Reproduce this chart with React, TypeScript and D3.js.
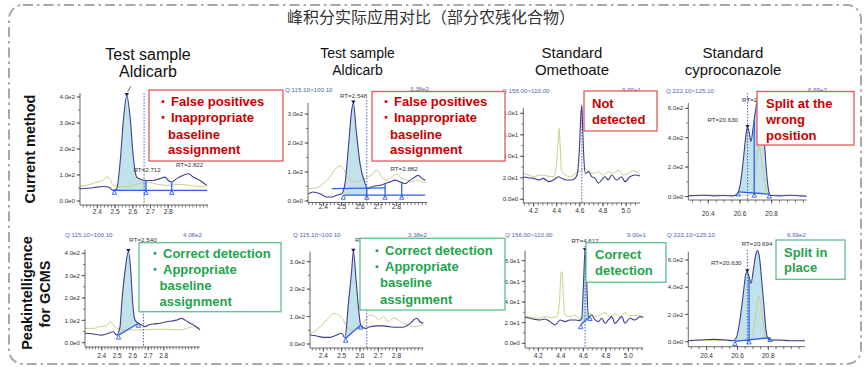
import React from "react";
import * as d3 from "d3";

type Pt = [number, number];

const FONT = "'Liberation Sans', Arial, sans-serif";
const CJK = "'Noto Sans CJK SC', 'Noto Sans', sans-serif";

// ---------- text ----------
const chartTitle = "峰积分实际应用对比（部分农残化合物）";
const colTitles: string[][] = [
  ["Test sample", "Aldicarb"],
  ["Test sample", "Aldicarb"],
  ["Standard", "Omethoate"],
  ["Standard", "cyproconazole"],
];
const rowTitleTop = ["Current method"];
const rowTitleBottom = ["Peakintelligence", "for GCMS"];

// ---------- tick values ----------
const xTicksAldicarb = [2.4, 2.5, 2.6, 2.7, 2.8];
const xTicksOmethoate = [4.2, 4.4, 4.6, 4.8, 5.0];
const xTicksCypro = [20.4, 20.6, 20.8];
const yTicks400 = [0, 100, 200, 300, 400];
const yTicks300 = [0, 100, 200, 300];
const yTicks80 = [0, 20, 40, 60, 80];
const yTicks600 = [0, 200, 400, 600];

// ---------- series: top row (current method) ----------
const p1Dark: Pt[] = [[2.302,47],[2.377,51],[2.434,56],[2.462,54],[2.49,41],[2.509,47],[2.528,144],[2.547,310],[2.566,406],[2.585,323],[2.603,169],[2.622,92],[2.65,82],[2.679,79],[2.716,79],[2.754,86],[2.782,92],[2.801,79],[2.82,73],[2.848,86],[2.886,99],[2.914,105],[2.942,92],[2.98,79],[3.018,60]];
const p1Yellow: Pt[] = [[2.302,56],[2.36,64],[2.4,73],[2.43,79],[2.455,92],[2.475,79],[2.49,60],[2.52,56],[2.57,56],[2.62,64],[2.68,73],[2.74,64],[2.8,60],[2.86,64],[2.92,60],[2.98,56],[3.018,58]];
const p1Base: Pt[][] = [[[2.49,41],[3.02,41]]];

const p2Dark: Pt[] = [[2.318,25],[2.345,31],[2.382,25],[2.418,14],[2.446,14],[2.473,20],[2.5,25],[2.518,60],[2.537,188],[2.555,315],[2.564,338],[2.579,245],[2.6,130],[2.628,60],[2.64,43],[2.673,51],[2.71,54],[2.737,60],[2.764,66],[2.792,72],[2.819,66],[2.846,60],[2.874,72],[2.901,83],[2.919,89],[2.937,78],[2.956,72]];
const p2Yellow: Pt[] = [[2.318,43],[2.364,46],[2.4,60],[2.436,83],[2.464,109],[2.487,120],[2.509,112],[2.528,89],[2.546,72],[2.573,66],[2.609,72],[2.637,83],[2.664,89],[2.691,107],[2.719,83],[2.746,72],[2.773,83],[2.801,93],[2.828,78],[2.855,72],[2.883,66],[2.91,72],[2.937,66],[2.956,63]];
const p2Base: Pt[][] = [[[2.446,43],[2.737,45]], [[2.509,20],[2.956,20]]];

const p3Dark: Pt[] = [[4.114,21],[4.157,20],[4.2,19.5],[4.243,18],[4.286,19.5],[4.329,16.4],[4.372,18],[4.416,21],[4.444,19.5],[4.487,18],[4.53,18],[4.559,19.5],[4.579,24],[4.597,49],[4.608,77],[4.617,88],[4.625,64],[4.637,33.5],[4.648,24],[4.674,25.7],[4.703,21],[4.732,19.5],[4.76,15],[4.789,18],[4.818,21],[4.847,18],[4.875,22.6],[4.918,18],[4.961,21],[4.99,16.4],[5.033,21],[5.076,22.6],[5.12,21.7]];
const p3Yellow: Pt[] = [[4.114,24],[4.157,22.6],[4.2,21],[4.257,22.6],[4.314,21.7],[4.372,21],[4.395,30],[4.41,49],[4.421,66],[4.43,49],[4.441,27],[4.473,22.6],[4.516,21],[4.559,24],[4.588,25.7],[4.617,27],[4.645,28.8],[4.674,27],[4.717,24],[4.76,25.7],[4.803,22.6],[4.846,25.7],[4.889,24],[4.932,27],[4.976,22.6],[5.019,24],[5.062,26.7],[5.12,22.6]];

const p4Dark: Pt[] = [[20.274,4.5],[20.368,9],[20.432,4.5],[20.495,6.7],[20.558,4.5],[20.579,13.5],[20.6,72],[20.617,207],[20.632,364],[20.642,454],[20.648,470],[20.659,431],[20.669,375],[20.684,476],[20.697,577],[20.709,652],[20.718,667],[20.731,634],[20.743,521],[20.756,342],[20.768,162],[20.781,38],[20.789,9],[20.853,4.5],[20.916,9],[20.979,4.5],[21.021,2]];
const p4Yellow: Pt[] = [[20.274,8],[20.4,10],[20.55,8],[20.66,10],[20.69,100],[20.705,250],[20.72,340],[20.735,260],[20.75,140],[20.77,30],[20.79,10],[20.9,8],[21.021,8]];
const p4Base: Pt[][] = [[[20.589,31],[20.785,16]]];

// ---------- series: bottom row (Peakintelligence) ----------
const p5Dark: Pt[] = [[2.292,42],[2.346,39],[2.4,34],[2.443,42],[2.475,49],[2.497,34],[2.518,72],[2.529,176],[2.551,325],[2.572,408],[2.587,325],[2.6,176],[2.615,101],[2.637,87],[2.658,79],[2.68,72],[2.701,79],[2.733,84],[2.776,87],[2.819,94],[2.852,97],[2.884,101],[2.916,109],[2.938,101],[2.97,87],[3.002,75],[3.034,57]];
const p5Yellow: Pt[] = [[2.292,64],[2.346,64],[2.389,72],[2.432,75],[2.454,94],[2.475,79],[2.497,64],[2.561,57],[2.647,57],[2.733,60],[2.819,60],[2.905,57],[2.97,69],[2.991,72],[3.034,64]];
const p5Base: Pt[][] = [[[2.508,34],[2.637,87]]];

const p6Dark: Pt[] = [[2.327,33],[2.364,29],[2.4,24],[2.436,24],[2.473,33],[2.5,39],[2.518,22],[2.537,148],[2.555,270],[2.564,338],[2.579,233],[2.593,124],[2.604,69],[2.628,57],[2.655,63],[2.691,66],[2.728,66],[2.764,63],[2.792,61],[2.819,61],[2.846,63],[2.874,75],[2.892,87],[2.91,94],[2.928,81],[2.946,75]];
const p6Yellow: Pt[] = [[2.327,39],[2.364,51],[2.4,75],[2.436,100],[2.464,112],[2.482,106],[2.509,87],[2.528,63],[2.555,51],[2.6,57],[2.628,87],[2.655,106],[2.682,100],[2.7,87],[2.728,100],[2.755,81],[2.783,94],[2.81,87],[2.837,75],[2.865,69],[2.892,63],[2.919,66],[2.946,69]];
const p6Base: Pt[][] = [[[2.522,21],[2.604,69]]];

const p7Dark: Pt[] = [[4.081,25.2],[4.126,24.2],[4.17,23.2],[4.215,22.6],[4.259,23.5],[4.304,21],[4.348,17.7],[4.393,22.6],[4.437,21],[4.481,22.6],[4.526,22.6],[4.564,22],[4.585,24.2],[4.6,54.8],[4.615,90],[4.63,58],[4.644,25.8],[4.674,27.4],[4.704,22.6],[4.733,21],[4.763,24.2],[4.793,19.4],[4.822,22.6],[4.852,25.8],[4.881,19.4],[4.911,22.6],[4.941,25.8],[4.97,19.4],[5.015,24.2],[5.059,22.6],[5.104,25.8],[5.133,25.2]];
const p7Yellow: Pt[] = [[4.081,25.8],[4.141,25.2],[4.2,24.2],[4.259,25.8],[4.319,24.8],[4.363,25.8],[4.387,38.7],[4.401,67.7],[4.41,69.4],[4.422,45.2],[4.437,27.4],[4.481,25.8],[4.526,27.4],[4.57,22.6],[4.615,25.8],[4.659,29],[4.704,25.8],[4.748,27.4],[4.793,29.7],[4.837,25.8],[4.881,28.4],[4.926,25.8],[4.97,29.7],[5.015,26.5],[5.074,27.4],[5.133,25.2]];
const p7Base: Pt[][] = [[[4.577,18],[4.659,26]]];

const p8Dark: Pt[] = [[20.281,7],[20.357,12],[20.443,17],[20.53,12],[20.573,7],[20.595,37],[20.616,159],[20.638,355],[20.655,502],[20.664,514],[20.675,478],[20.688,429],[20.703,527],[20.716,625],[20.729,669],[20.742,625],[20.757,453],[20.772,257],[20.785,86],[20.794,32],[20.811,12],[20.876,12],[20.941,7],[21.038,7]];
const p8Yellow: Pt[] = [[20.281,10],[20.45,12],[20.6,10],[20.68,12],[20.692,24],[20.714,159],[20.729,282],[20.737,335],[20.75,282],[20.768,135],[20.785,24],[20.81,10],[21.038,10]];
const p8Base: Pt[][] = [[[20.584,2],[20.811,30]]];

// ---------- annotation boxes ----------
const redBoxLines: string[][] = [
  ["•False positives", "•Inappropriate", "baseline", "assignment"],
  ["•False positives", "•Inappropriate", "baseline", "assignment"],
  ["Not", "detected"],
  ["Split at the", "wrong", "position"],
];
const greenBoxLines: string[][] = [
  ["•Correct detection", "•Appropriate", "baseline", "assignment"],
  ["•Correct detection", "•Appropriate", "baseline", "assignment"],
  ["Correct", "detection"],
  ["Split in", "place"],
];

// ---------- layout ----------
interface RT { text: string; x: number; y: number; anchor: "start" | "middle" | "end" }
interface Header { text: string; x: number; y: number }
interface PanelCfg {
  xPx: [number, number]; xDom: [number, number];
  yZeroPx: number; yRefPx: number; yRefVal: number;
  axisTop: number; axisY: number; xLabelY: number;
  xTicks: number[]; xMinor: number; yTicks: number[]; yMinor: number;
  dark: Pt[]; yellow: Pt[]; base: Pt[][];
  fill?: [number, number]; fillBase?: number;
  verticals: number[]; tris: number[];
  dashX: number; dashTop: number;
  peaks: number[];
  rts: RT[]; headers: Header[];
  peakTick?: boolean;
}

const panels: PanelCfg[] = [
  { xPx: [80, 208], xDom: [2.302, 3.025], yZeroPx: 201, yRefPx: 97, yRefVal: 400, axisTop: 93, axisY: 205, xLabelY: 214,
    xTicks: xTicksAldicarb, xMinor: 0.02, yTicks: yTicks400, yMinor: 50, dark: p1Dark, yellow: p1Yellow, base: p1Base,
    fill: [2.49, 2.675], fillBase: 0, verticals: [2.675, 2.82], tris: [2.496, 2.675, 2.82], dashX: 2.664, dashTop: 93,
    peaks: [2.566], peakTick: true,
    rts: [{ text: "RT=2.712", x: 2.681, y: 112, anchor: "middle" }, { text: "RT=2.822", x: 2.921, y: 131, anchor: "middle" }],
    headers: [] },
  { xPx: [308, 427], xDom: [2.316, 2.966], yZeroPx: 201, yRefPx: 114, yRefVal: 300, axisTop: 103, axisY: 202.5, xLabelY: 209,
    xTicks: xTicksAldicarb, xMinor: 0.02, yTicks: yTicks300, yMinor: 50, dark: p2Dark, yellow: p2Yellow, base: p2Base,
    fill: [2.509, 2.637], fillBase: 1, verticals: [2.637, 2.737, 2.828], tris: [2.509, 2.637, 2.737, 2.828], dashX: 2.637, dashTop: 100,
    peaks: [2.564],
    rts: [{ text: "RT=2.548", x: 2.565, y: 355, anchor: "middle" }, { text: "RT=2.882", x: 2.841, y: 103, anchor: "middle" }],
    headers: [{ text: "Q 115.10>100.10", x: 285, y: 92 }, { text: "3.38e2", x: 410, y: 91 }] },
  { xPx: [523.3, 640], xDom: [4.111, 5.12], yZeroPx: 199.3, yRefPx: 113.3, yRefVal: 80, axisTop: 108, axisY: 203, xLabelY: 213,
    xTicks: xTicksOmethoate, xMinor: 0.04, yTicks: yTicks80, yMinor: 10, dark: p3Dark, yellow: p3Yellow, base: [],
    verticals: [], tris: [], dashX: 4.617, dashTop: 108, peaks: [],
    rts: [], headers: [{ text: "Q 156.00>110.00", x: 502, y: 93 }, { text: "9.00e1", x: 622, y: 92 }] },
  { xPx: [688.3, 806.7], xDom: [20.274, 21.021], yZeroPx: 196.5, yRefPx: 108.3, yRefVal: 600, axisTop: 103, axisY: 200, xLabelY: 216,
    xTicks: xTicksCypro, xMinor: 0.05, yTicks: yTicks600, yMinor: 100, dark: p4Dark, yellow: p4Yellow, base: p4Base,
    fill: [20.589, 20.785], fillBase: 0, verticals: [20.69], tris: [20.589, 20.69, 20.785], dashX: 20.648, dashTop: 93,
    peaks: [20.648],
    rts: [{ text: "RT=20.630", x: 20.588, y: 507, anchor: "end" }, { text: "RT=20.694", x: 20.613, y: 643, anchor: "start" }],
    headers: [{ text: "Q 222.10>125.10", x: 666, y: 93 }, { text: "6.69e2", x: 808, y: 92 }] },
  { xPx: [85, 200], xDom: [2.292, 3.034], yZeroPx: 342.7, yRefPx: 253.3, yRefVal: 400, axisTop: 250, axisY: 347, xLabelY: 357.5,
    xTicks: xTicksAldicarb, xMinor: 0.02, yTicks: yTicks400, yMinor: 50, dark: p5Dark, yellow: p5Yellow, base: p5Base,
    fill: [2.508, 2.637], fillBase: 0, verticals: [], tris: [2.508, 2.637], dashX: 2.669, dashTop: 248,
    peaks: [2.572],
    rts: [{ text: "RT=2.540", x: 2.666, y: 450, anchor: "middle" }],
    headers: [{ text: "Q 115.10>100.10", x: 65, y: 237 }, { text: "4.08e2", x: 183, y: 237 }] },
  { xPx: [310, 423.3], xDom: [2.327, 2.946], yZeroPx: 344, yRefPx: 261.7, yRefVal: 300, axisTop: 251.7, axisY: 348, xLabelY: 357.5,
    xTicks: xTicksAldicarb, xMinor: 0.02, yTicks: yTicks300, yMinor: 50, dark: p6Dark, yellow: p6Yellow, base: p6Base,
    fill: [2.522, 2.604], fillBase: 0, verticals: [], tris: [2.522, 2.604], dashX: 2.637, dashTop: 250,
    peaks: [2.564],
    rts: [{ text: "RT=2.547", x: 2.573, y: 372, anchor: "start" }],
    headers: [{ text: "Q 115.10>100.10", x: 293, y: 237 }, { text: "3.38e2", x: 408, y: 237 }] },
  { xPx: [525, 643.3], xDom: [4.081, 5.133], yZeroPx: 343.3, yRefPx: 260.7, yRefVal: 80, axisTop: 250.7, axisY: 348, xLabelY: 357.5,
    xTicks: xTicksOmethoate, xMinor: 0.04, yTicks: yTicks80, yMinor: 10, dark: p7Dark, yellow: p7Yellow, base: p7Base,
    fill: [4.577, 4.659], fillBase: 0, verticals: [], tris: [4.577, 4.659], dashX: 4.615, dashTop: 246,
    peaks: [4.615],
    rts: [{ text: "RT=4.612", x: 4.615, y: 97, anchor: "middle" }],
    headers: [{ text: "Q 156.00>110.00", x: 505, y: 237 }, { text: "9.00e1", x: 627, y: 237 }] },
  { xPx: [688.3, 805], xDom: [20.281, 21.038], yZeroPx: 341.7, yRefPx: 260, yRefVal: 600, axisTop: 251.7, axisY: 346.7, xLabelY: 357.5,
    xTicks: xTicksCypro, xMinor: 0.05, yTicks: yTicks600, yMinor: 100, dark: p8Dark, yellow: p8Yellow, base: p8Base,
    fill: [20.584, 20.811], fillBase: 0, verticals: [20.675], tris: [20.584, 20.675, 20.811], dashX: 20.664, dashTop: 250,
    peaks: [20.664],
    rts: [{ text: "RT=20.694", x: 20.727, y: 703, anchor: "middle" }, { text: "RT=20.630", x: 20.527, y: 563, anchor: "middle" }],
    headers: [{ text: "Q 222.10>125.10", x: 667, y: 237 }, { text: "6.69e2", x: 787, y: 237 }] },
];

interface BoxCfg { x: number; y: number; w: number; h: number; lx: number[]; ly: number[] }
const redBoxes: BoxCfg[] = [
  { x: 149, y: 90, w: 134, h: 71, lx: [163, 163, 168, 168], ly: [106.3, 122, 138.6, 154] },
  { x: 372, y: 91.5, w: 133, h: 69.5, lx: [386, 386, 390, 390], ly: [106.3, 122, 138.6, 154] },
  { x: 584, y: 91, w: 73, h: 40, lx: [592, 592], ly: [108, 124] },
  { x: 757, y: 91.5, w: 97, h: 53.5, lx: [766, 766, 766], ly: [108, 124, 139.5] },
];
const greenBoxes: BoxCfg[] = [
  { x: 139, y: 242.7, w: 142, h: 69, lx: [155, 155, 159.5, 159.5], ly: [258, 274, 290.4, 305.7] },
  { x: 360, y: 238.3, w: 145, h: 71.7, lx: [377, 377, 380, 380], ly: [255.4, 271.4, 287.4, 303.7] },
  { x: 586, y: 242.7, w: 80, h: 39.6, lx: [595, 595], ly: [259, 274.7] },
  { x: 776, y: 240, w: 69, h: 39.3, lx: [784, 784], ly: [257, 272.4] },
];

// ---------- helpers ----------
function interp(pts: Pt[], xv: number): number {
  for (let i = 0; i < pts.length - 1; i++) {
    const [x0, y0] = pts[i];
    const [x1, y1] = pts[i + 1];
    if (xv >= x0 && xv <= x1) return y0 + ((y1 - y0) * (xv - x0)) / (x1 - x0);
  }
  return xv < pts[0][0] ? pts[0][1] : pts[pts.length - 1][1];
}
function fmtY(v: number): string {
  if (v === 0) return "0.0e0";
  const e = Math.floor(Math.log10(v));
  return (v / Math.pow(10, e)).toFixed(1) + "e" + e;
}
function lowestBase(base: Pt[][], xv: number): number | null {
  let best: number | null = null;
  for (const seg of base) {
    if (xv >= seg[0][0] - 1e-9 && xv <= seg[seg.length - 1][0] + 1e-9) {
      const v = interp(seg, xv);
      if (best === null || v < best) best = v;
    }
  }
  return best;
}

const DARK = "#3d3f8f";
const YELLOW = "#c8cf8c";
const BRIGHT = "#2f5ff0";
const FILL = "#bfe0ea";
const AXIS = "#444";

function Panel({ c }: { c: PanelCfg }) {
  const x = d3.scaleLinear().domain(c.xDom).range(c.xPx);
  const y = d3.scaleLinear().domain([0, c.yRefVal]).range([c.yZeroPx, c.yRefPx]);
  const line = d3.line<Pt>().x((d) => x(d[0])).y((d) => y(d[1])).curve(d3.curveMonotoneX);
  const lineLin = d3.line<Pt>().x((d) => x(d[0])).y((d) => y(d[1]));

  let fillPath: string | null = null;
  if (c.fill && c.base.length) {
    const [xa, xb] = c.fill;
    const seg = c.base[c.fillBase ?? 0];
    const pts: Pt[] = [[xa, interp(c.dark, xa)], ...c.dark.filter((p) => p[0] > xa && p[0] < xb), [xb, interp(c.dark, xb)]];
    const area = d3.area<Pt>().x((d) => x(d[0])).y0((d) => y(interp(seg, d[0]))).y1((d) => y(d[1])).curve(d3.curveMonotoneX);
    fillPath = area(pts);
  }

  const xMinorTicks = d3.range(Math.ceil(c.xDom[0] / c.xMinor) * c.xMinor, c.xDom[1], c.xMinor).map((v) => +v.toFixed(4));
  const yMaxVal = y.invert(c.axisTop);
  const yMinorTicks = d3.range(0, yMaxVal, c.yMinor);

  return (
    <g>
      {c.headers.map((h, i) => (
        <text key={"h" + i} x={h.x} y={h.y} fontFamily={FONT} fontSize={6.2} fill="#4c66a6">{h.text}</text>
      ))}
      {fillPath && <path d={fillPath} fill={FILL} opacity={0.95} />}
      <path d={line(c.yellow) || ""} fill="none" stroke={YELLOW} strokeWidth={1} />
      <path d={line(c.dark) || ""} fill="none" stroke={DARK} strokeWidth={1.1} />
      {c.base.map((seg, i) => (
        <path key={"b" + i} d={lineLin(seg) || ""} fill="none" stroke={BRIGHT} strokeWidth={1.3} />
      ))}
      {c.verticals.map((xv, i) => {
        const b = lowestBase(c.base, xv) ?? 0;
        return <line key={"v" + i} x1={x(xv)} x2={x(xv)} y1={y(interp(c.dark, xv))} y2={y(b) + 2} stroke={BRIGHT} strokeWidth={1.3} />;
      })}
      {c.tris.map((xv, i) => {
        const b = lowestBase(c.base, xv) ?? 0;
        const px = x(xv), py = y(b);
        return <path key={"t" + i} d={`M${px},${py} L${px - 2.2},${py + 4} L${px + 2.2},${py + 4} Z`} fill="none" stroke={BRIGHT} strokeWidth={0.9} />;
      })}
      <line x1={x(c.dashX)} x2={x(c.dashX)} y1={c.dashTop} y2={c.axisY} stroke="#3552b0" strokeWidth={0.9} strokeDasharray="1.5 1.5" />
      {c.peaks.map((xv, i) => {
        const px = x(xv), py = y(interp(c.dark, xv));
        return (
          <g key={"p" + i}>
            <path d={`M${px - 2.2},${py - 2.5} L${px + 2.2},${py - 2.5} L${px},${py + 1} Z`} fill="#1d1f4a" />
            {c.peakTick && <line x1={px + 1} y1={py - 4} x2={px + 4} y2={py - 9} stroke="#333" strokeWidth={0.8} />}
          </g>
        );
      })}
      {c.rts.map((r, i) => (
        <text key={"r" + i} x={x(r.x)} y={y(r.y)} textAnchor={r.anchor} fontFamily={FONT} fontSize={6.2} fill="#333">{r.text}</text>
      ))}
      {/* axes */}
      <line x1={c.xPx[0]} x2={c.xPx[0]} y1={c.axisTop} y2={c.axisY} stroke={AXIS} strokeWidth={0.8} />
      <line x1={c.xPx[0]} x2={c.xPx[1]} y1={c.axisY} y2={c.axisY} stroke={AXIS} strokeWidth={0.8} />
      {xMinorTicks.map((v, i) => (
        <line key={"xm" + i} x1={x(v)} x2={x(v)} y1={c.axisY} y2={c.axisY + 2.5} stroke={AXIS} strokeWidth={0.7} />
      ))}
      {c.xTicks.map((v, i) => (
        <g key={"xt" + i}>
          <line x1={x(v)} x2={x(v)} y1={c.axisY} y2={c.axisY + 3.5} stroke={AXIS} strokeWidth={0.8} />
          <text x={x(v)} y={c.xLabelY} textAnchor="middle" fontFamily={FONT} fontSize={6.5} fill="#333">{v.toFixed(1)}</text>
        </g>
      ))}
      {yMinorTicks.map((v, i) => (
        <line key={"ym" + i} x1={c.xPx[0] - 2} x2={c.xPx[0]} y1={y(v)} y2={y(v)} stroke={AXIS} strokeWidth={0.7} />
      ))}
      {c.yTicks.map((v, i) => (
        <g key={"yt" + i}>
          <line x1={c.xPx[0] - 3.5} x2={c.xPx[0]} y1={y(v)} y2={y(v)} stroke={AXIS} strokeWidth={0.8} />
          <text x={c.xPx[0] - 5} y={y(v)} dy="0.35em" textAnchor="end" fontFamily={FONT} fontSize={6.2} fill="#333">{fmtY(v)}</text>
        </g>
      ))}
    </g>
  );
}

function Box({ b, lines, stroke, color }: { b: BoxCfg; lines: string[]; stroke: string; color: string }) {
  return (
    <g>
      <rect x={b.x} y={b.y} width={b.w} height={b.h} fill="#fff" stroke={stroke} strokeWidth={1.3} />
      {lines.map((t, i) => {
        const bullet = t.startsWith("•");
        const body = bullet ? t.slice(1) : t;
        return (
          <g key={i}>
            {bullet && (
              <rect x={b.lx[i] - 1.3} y={b.ly[i] - 6} width={2.6} height={2.6} fill={color} />
            )}
            <text x={bullet ? b.lx[i] + 8 : b.lx[i]} y={b.ly[i]} fontFamily={FONT} fontSize={13} fontWeight="bold" fill={color}>{body}</text>
          </g>
        );
      })}
    </g>
  );
}

const colLayout = [
  { x: 148, y: [60, 76.5], size: 16 },
  { x: 357.5, y: [57.5, 74.5], size: 14 },
  { x: 572, y: [57.7, 75.4], size: 15 },
  { x: 733, y: [57.7, 75.4], size: 15 },
];

export default function App() {
  return (
    <svg width={865} height={367} style={{ position: "absolute", left: 0, top: 0, background: "#fff" }}>
      <rect x={0} y={0} width={865} height={367} fill="#fff" />
      <rect x={9} y={5} width={852} height={359} rx={14} fill="none" stroke="#a8a8a8" strokeWidth={2} strokeDasharray="10 4 2.5 4" />
      <text x={431} y={23} textAnchor="middle" fontFamily={CJK} fontSize={16} fill="#333">{chartTitle}</text>
      {colTitles.map((lines, i) => (
        <g key={"c" + i}>
          {lines.map((t, j) => (
            <text key={j} x={colLayout[i].x} y={colLayout[i].y[j]} textAnchor="middle" fontFamily={FONT} fontSize={colLayout[i].size} fill="#111">{t}</text>
          ))}
        </g>
      ))}
      <text transform="translate(30,149) rotate(-90)" textAnchor="middle" dy="0.35em" fontFamily={FONT} fontSize={14.5} fontWeight="bold" fill="#111">{rowTitleTop[0]}</text>
      <text transform="translate(27,293) rotate(-90)" textAnchor="middle" dy="0.35em" fontFamily={FONT} fontSize={14.5} fontWeight="bold" fill="#111">{rowTitleBottom[0]}</text>
      <text transform="translate(45,294) rotate(-90)" textAnchor="middle" dy="0.35em" fontFamily={FONT} fontSize={14.5} fontWeight="bold" fill="#111">{rowTitleBottom[1]}</text>
      {panels.map((p, i) => (
        <Panel key={i} c={p} />
      ))}
      {redBoxes.map((b, i) => (
        <Box key={"rb" + i} b={b} lines={redBoxLines[i]} stroke="#e05a5a" color="#c80000" />
      ))}
      {greenBoxes.map((b, i) => (
        <Box key={"gb" + i} b={b} lines={greenBoxLines[i]} stroke="#5cc08c" color="#1fa34c" />
      ))}
    </svg>
  );
}
